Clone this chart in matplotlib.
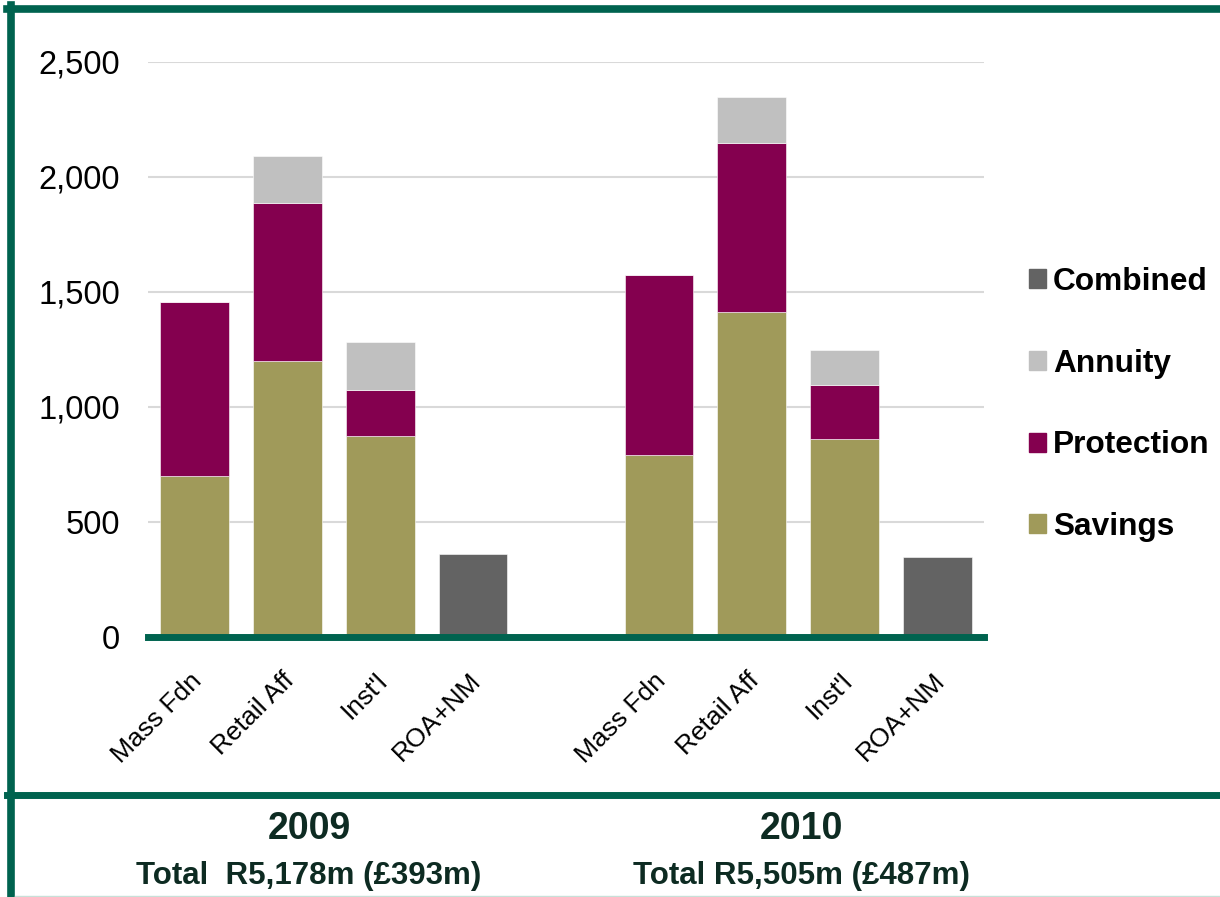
import numpy as np
import matplotlib
matplotlib.use('Agg')
import matplotlib.pyplot as plt
import matplotlib.transforms as mtransforms
from matplotlib.lines import Line2D
from matplotlib.patches import Patch

plt.rcParams['font.family'] = ['Liberation Sans', 'DejaVu Sans']

# values (Rm)
categories = ['Mass Fdn', 'Retail Aff', "Inst'l", 'ROA+NM',
              'Mass Fdn', 'Retail Aff', "Inst'l", 'ROA+NM']
positions = [0, 1, 2, 3, 5, 6, 7, 8]
savings = [700, 1200, 873, 0, 790, 1410, 861, 0]
protection = [755, 685, 200, 0, 783, 735, 235, 0]
annuity = [0, 205, 207, 0, 0, 200, 149, 0]
combined = [0, 0, 0, 360, 0, 0, 0, 346]

year_labels = ['2009', '2010']
total_labels = ['Total  R5,178m (\u00a3393m)', 'Total R5,505m (\u00a3487m)']

green = '#00634F'
c_sav = '#A09A5A'
c_pro = '#84004F'
c_ann = '#C0C0C0'
c_com = '#636363'

fig = plt.figure(figsize=(12.2, 8.97), dpi=100)
ax = fig.add_axes([0.1213, 0.2902, 0.6853, 0.641])

x = np.array(positions)
sav = np.array(savings)
pro = np.array(protection)
ann = np.array(annuity)
w = 0.74
ax.bar(x, sav, w, color=c_sav, edgecolor='white', linewidth=0.4, zorder=3)
ax.bar(x, pro, w, bottom=sav, color=c_pro, edgecolor='white', linewidth=0.4, zorder=3)
ax.bar(x, ann, w, bottom=sav + pro, color=c_ann, edgecolor='white', linewidth=0.4, zorder=3)
ax.bar(x, combined, w, color=c_com, edgecolor='white', linewidth=0.4, zorder=3)

ax.set_xlim(-0.5, 8.5)
ax.set_ylim(0, 2500)
ax.set_yticks(range(0, 2501, 500))
ax.set_yticklabels(['{:,}'.format(v) for v in range(0, 2501, 500)], fontsize=23.5)
ax.yaxis.grid(True, color='#D9D9D9', linewidth=1.5, zorder=0)
ax.tick_params(axis='y', length=0, pad=20)
ax.set_xticks(positions)
ax.set_xticklabels(categories, rotation=45, ha='right', rotation_mode='anchor', fontsize=19)
ax.tick_params(axis='x', length=0, pad=23)
shift = mtransforms.ScaledTranslation(-5 / 100, 0, fig.dpi_scale_trans)
for lab in ax.get_xticklabels():
    lab.set_transform(lab.get_transform() + shift)

for s in ['top', 'right', 'left']:
    ax.spines[s].set_visible(False)
ax.spines['bottom'].set_color(green)
ax.spines['bottom'].set_linewidth(5)
ax.spines['bottom'].set_zorder(4)

handles = [Patch(color=c_com), Patch(color=c_ann), Patch(color=c_pro), Patch(color=c_sav)]
labels = ['Combined', 'Annuity', 'Protection', 'Savings']
fig.legend(handles, labels, loc='center left', bbox_to_anchor=(0.820, 0.549),
           frameon=False, prop={'size': 22.8, 'weight': 'bold'},
           handlelength=0.54, handleheight=0.54, handletextpad=0.22, labelspacing=1.63)

# frame lines
fig.add_artist(Line2D([11 / 1220, 11 / 1220], [0, 1 - 5 / 897], color=green, linewidth=5.5))
fig.add_artist(Line2D([7 / 1220, 1], [1 - 9 / 897, 1 - 9 / 897], color=green, linewidth=5.5))
fig.add_artist(Line2D([7 / 1220, 1], [1 - 795 / 897, 1 - 795 / 897], color=green, linewidth=5))
fig.add_artist(Line2D([15 / 1220, 1], [0.6 / 897, 0.6 / 897], color='#C8E0D8', linewidth=1))

for cx, yr, tot in zip([309, 801], year_labels, total_labels):
    fig.text(cx / 1220, 1 - 829 / 897, yr, ha='center', va='center',
             fontsize=27, fontweight='bold', color='#0D2B22')
    fig.text(cx / 1220, 1 - 876 / 897, tot, ha='center', va='center',
             fontsize=22.5, fontweight='bold', color='#0D2B22')

fig.savefig('out.png', dpi=100)
